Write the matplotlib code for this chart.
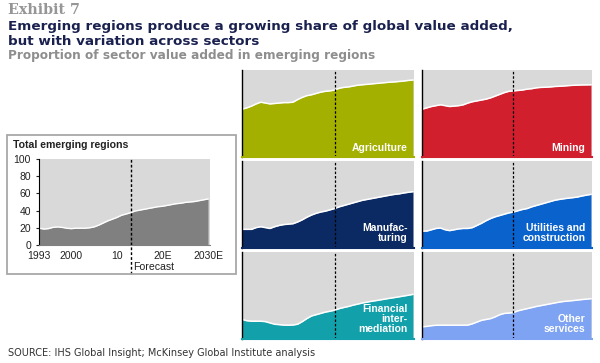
import matplotlib.pyplot as plt
from matplotlib.patches import Rectangle

years = list(range(1993, 2031))
forecast_year = 2013

total = [19.5, 18.5, 19, 20.5, 21, 20.5, 19.5, 19, 19.5, 19.5, 19.5, 20, 21, 23, 25.5,
         28, 30, 32, 34.5, 36, 37.5, 39.5, 40.5, 41.5, 42.5, 43.5, 44.5, 45, 46, 47,
         48, 48.5, 49.5, 50, 50.5, 51.5, 52.5, 53.5]

agriculture = [55, 56.5, 58.5, 61, 63, 62, 61, 61.5, 62, 62.5, 62.5, 63, 66, 68.5, 70.5,
               71.5, 73, 74.5, 75.5, 76, 77, 79, 80, 80.5, 81.5, 82.5, 83, 83.5, 84,
               84.5, 85, 85.5, 86, 86.3, 86.8, 87.3, 88, 88.5]
mining = [55, 56.5, 58, 59, 60, 59, 58, 58.5, 59, 60, 62, 63.5, 64.5, 65.5, 66.5, 68,
          70, 72, 74, 75.5, 76, 76.5, 77, 78, 78.5, 79.5, 80, 80.2, 80.5, 81, 81.3,
          81.6, 82, 82.4, 82.6, 82.8, 82.9, 83]
manufacturing = [21, 21, 21, 23, 24, 23, 22, 24, 25.5, 26.5, 27, 27.5, 29.5, 32, 35,
                 37.5, 39.5, 41, 42, 43.5, 45, 47, 48.5, 50, 51.5, 53, 54.5, 55.5,
                 56.5, 57.5, 58.5, 59.5, 60.5, 61.4, 62, 63, 63.8, 64.5]
utilities = [19, 19, 20.5, 22, 22.5, 20.5, 19.5, 20.5, 21.5, 22, 22, 23, 25.5, 28, 31,
             33.5, 35.5, 37, 38.5, 40, 41, 42.5, 44, 45, 47, 48.5, 50, 51.5, 53, 54.5,
             55.5, 56.3, 57, 57.6, 58.3, 59.5, 60.5, 61.4]
financial = [22, 20.5, 20, 20, 20, 19.5, 18, 16.5, 16, 15.5, 15.4, 15.6, 16.5, 19.5, 23,
             26, 27.5, 29, 30.5, 31.5, 32.7, 34.5, 35.8, 37, 38.5, 39.7, 41, 42, 43,
             43.8, 44.7, 45.6, 46.5, 47.3, 48.2, 49.1, 50, 51]
other = [13.5, 14, 14.8, 15.3, 15.4, 15.4, 15.4, 15.4, 15.4, 15.4, 15.5, 17, 19, 21, 22,
         23, 25, 27.5, 29, 29.4, 30, 32, 33.3, 34.5, 35.7, 37, 38, 39, 40, 41, 42,
         42.8, 43.3, 43.8, 44.4, 45, 45.5, 46]

sectors = [
    ("Agriculture", agriculture, "#a3b000"),
    ("Mining", mining, "#d21f2e"),
    ("Manufac-\nturing", manufacturing, "#0b2a63"),
    ("Utilities and\nconstruction", utilities, "#0a62cc"),
    ("Financial\ninter-\nmediation", financial, "#12a0aa"),
    ("Other\nservices", other, "#7ea3f2"),
]

W, H = 600, 363
bg = "#d9d9d9"
plt.rcParams['font.family'] = ['Liberation Sans', 'DejaVu Sans']

fig = plt.figure(figsize=(6, 3.63), dpi=100)


def px_axes(x0, y0, w, h):
    return fig.add_axes([x0 / W, 1 - (y0 + h) / H, w / W, h / H])


# titles
fig.text(8 / W, 1 - 10 / H, "Exhibit 7", family="DejaVu Serif", fontsize=10.3,
         fontweight="bold", color="#969696", va="center")
fig.text(8 / W, 1 - 26.5 / H, "Emerging regions produce a growing share of global value added,",
         family="DejaVu Sans", fontsize=9.7, fontweight="bold", color="#1a214f", va="center")
fig.text(8 / W, 1 - 41.5 / H, "but with variation across sectors",
         family="DejaVu Sans", fontsize=9.7, fontweight="bold", color="#1a214f", va="center")
fig.text(8 / W, 1 - 55.5 / H, "Proportion of sector value added in emerging regions",
         family="DejaVu Sans", fontsize=8.7, fontweight="bold", color="#8e8e8e", va="center")
fig.text(8 / W, 1 - 353 / H, "SOURCE: IHS Global Insight; McKinsey Global Institute analysis",
         family="DejaVu Sans", fontsize=7.05, color="#333333", va="center")

# inset box for total
fig.patches.append(Rectangle((6.5 / W, 1 - 274 / H), 230 / W, 139 / H,
                             transform=fig.transFigure, fill=False,
                             edgecolor="#a8a8a8", linewidth=1.3))
fig.text(13 / W, 1 - 145 / H, "Total emerging regions", fontsize=7.6,
         fontweight="bold", color="#222222", va="center")

ax = px_axes(39.3, 159, 171, 86)
ax.set_facecolor(bg)
ax.fill_between(years, total, 0, color="#808080", linewidth=0)
ax.plot(years, total, color="white", linewidth=1)
ax.set_xlim(1993, 2030.5)
ax.set_ylim(0, 100)
ax.set_yticks([0, 20, 40, 60, 80, 100])
ax.set_xticks([1993, 2000, 2010, 2020, 2030])
ax.set_xticklabels(["1993", "2000", "10", "20E", "2030E"])
ax.tick_params(labelsize=7.5, colors="#222222", length=2, width=0.8, pad=4)
ax.tick_params(axis="x", length=0, pad=4.5)
for s in ["top", "right"]:
    ax.spines[s].set_visible(False)
ax.spines["left"].set_color("black")
ax.spines["bottom"].set_color("#808080")
ax.axvline(forecast_year, ymin=-0.34, ymax=1, color="black", linewidth=1,
           linestyle=(0, (2, 1.5)), clip_on=False)
ax.text(forecast_year + 0.6, -25.5, "Forecast", fontsize=7.6, color="#222222",
        va="center", ha="left")

# small multiples
cols = [(242.3, 172), (422.3, 170)]
rows = [(70, 87), (161, 86.5), (252, 86.5)]

for i, (label, vals, color) in enumerate(sectors):
    cx, cw = cols[i % 2]
    ry, rh = rows[i // 2]
    a = px_axes(cx, ry, cw, rh)
    a.set_facecolor(bg)
    a.fill_between(years, vals, 0, color=color, linewidth=0)
    a.plot(years, vals, color="white", linewidth=1.1)
    a.set_xlim(1993, 2030.3)
    a.set_ylim(0, 100)
    a.set_xticks([])
    a.set_yticks([])
    for s in ["top", "right"]:
        a.spines[s].set_visible(False)
    a.spines["left"].set_color("black")
    a.spines["left"].set_linewidth(1)
    a.spines["bottom"].set_color(color)
    a.spines["bottom"].set_linewidth(1.5)
    a.axvline(forecast_year, color="black", linewidth=0.9, linestyle=(0, (2, 1.5)))
    a.text(1 - 7 / cw, 4.5 / rh, label, transform=a.transAxes, ha="right", va="bottom",
           fontsize=7.5, fontweight="bold", color="white", linespacing=1.0,
           multialignment="right")

fig.savefig("out.png", dpi=100)
